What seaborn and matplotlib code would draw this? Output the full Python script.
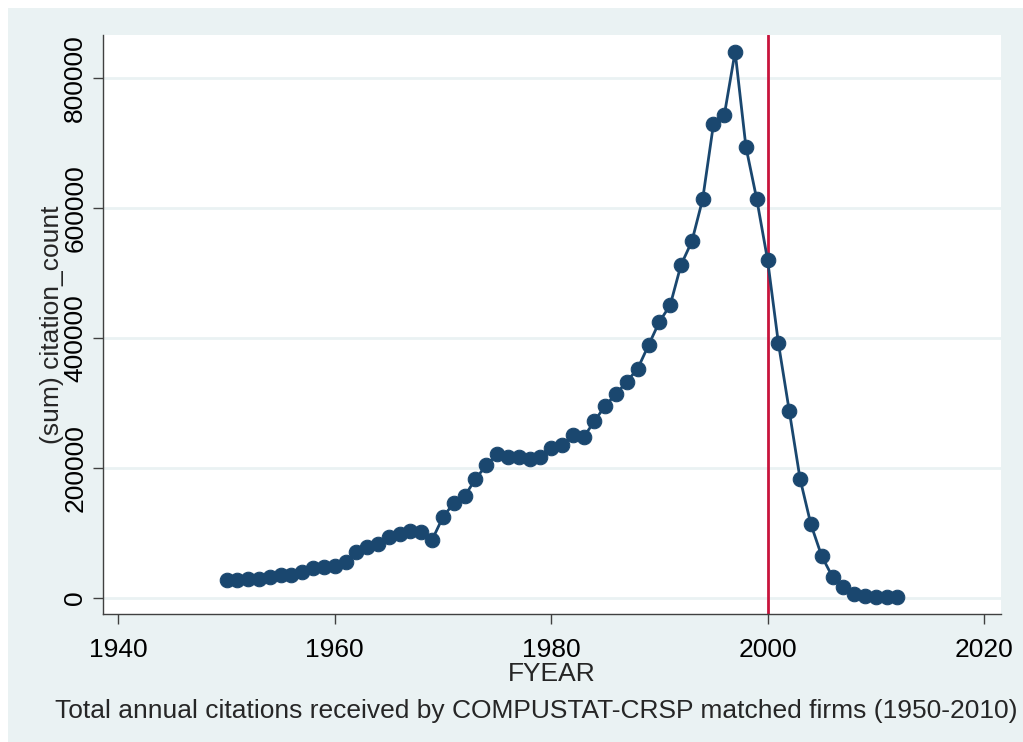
import matplotlib
matplotlib.use('Agg')
import matplotlib.pyplot as plt
import seaborn as sns
import pandas as pd

# Annual citation totals
fyear = [1950, 1951, 1952, 1953, 1954, 1955, 1956, 1957, 1958, 1959,
         1960, 1961, 1962, 1963, 1964, 1965, 1966, 1967, 1968, 1969,
         1970, 1971, 1972, 1973, 1974, 1975, 1976, 1977, 1978, 1979,
         1980, 1981, 1982, 1983, 1984, 1985, 1986, 1987, 1988, 1989,
         1990, 1991, 1992, 1993, 1994, 1995, 1996, 1997, 1998, 1999,
         2000, 2001, 2002, 2003, 2004, 2005, 2006, 2007, 2008, 2009,
         2010, 2011, 2012]
citations = [27000, 26500, 28500, 28500, 32000, 35000, 35000, 39000, 45000, 47000,
             48500, 55000, 70000, 78500, 82500, 93000, 98500, 103000, 101500, 89000,
             124000, 145500, 156000, 182500, 203500, 220500, 216000, 216000, 213500, 217000,
             231000, 235000, 250500, 247000, 271500, 295500, 313500, 332500, 352500, 388500,
             424500, 450000, 512000, 548000, 613000, 728500, 742500, 840000, 693500, 613000,
             519500, 391500, 287700, 183000, 113000, 64000, 32000, 16000, 5000, 2000,
             1000, 600, 300]
xticks = [1940, 1960, 1980, 2000, 2020]
yticks = [0, 200000, 400000, 600000, 800000]
cutoff_year = 2000

df = pd.DataFrame({'FYEAR': fyear, 'citation_count': citations})

sns.set_style('white')
plt.rcParams['font.family'] = ['Liberation Sans', 'DejaVu Sans']

navy = '#1A476F'
bg = '#EAF2F3'
fs = 19

fig = plt.figure(figsize=(10.23, 7.42), dpi=100)
fig.patch.set_facecolor('white')
# Stata-like light background panel
fig.patches.append(plt.Rectangle((8 / 1023, 0), 1, 1 - 8 / 742, transform=fig.transFigure,
                                 facecolor=bg, edgecolor='none', zorder=-10))

ax = fig.add_axes([102.5 / 1023, 1 - 614 / 742, (1001 - 102.5) / 1023, (614 - 35) / 742])
ax.set_facecolor('white')

for t in yticks:
    ax.axhline(t, color=bg, linewidth=2, zorder=0)

ax.axvline(cutoff_year, color='#C8143C', linewidth=2, zorder=1)

sns.lineplot(data=df, x='FYEAR', y='citation_count', ax=ax, color=navy, linewidth=2,
             marker='o', markersize=10.5, markeredgecolor=navy, markerfacecolor=navy, zorder=3)

ax.set_xlim(1938.54, 2021.57)
ax.set_ylim(-25100, 865700)
ax.set_xticks(xticks)
ax.set_yticks(yticks)
ax.set_yticklabels([str(t) for t in yticks], rotation=90, va='center')

for s in ['top', 'right']:
    ax.spines[s].set_visible(False)
for s in ['left', 'bottom']:
    ax.spines[s].set_color('#404040')
    ax.spines[s].set_linewidth(1.0)

ax.tick_params(axis='both', direction='out', length=7, width=1, color='#404040',
               labelsize=fs, labelcolor='black', left=True, bottom=True)
ax.tick_params(axis='x', pad=10)
ax.tick_params(axis='y', pad=4)

ax.set_xlabel('FYEAR', fontsize=fs, labelpad=0)
ax.set_ylabel('(sum) citation_count', fontsize=fs)
ax.yaxis.set_label_coords(-0.043, 0.5)

fig.text(55 / 1023, 1 - 718 / 742,
         'Total annual citations received by COMPUSTAT-CRSP matched firms (1950-2010)',
         fontsize=fs, ha='left', va='baseline')

fig.savefig('out.png', dpi=100, facecolor=fig.get_facecolor())
